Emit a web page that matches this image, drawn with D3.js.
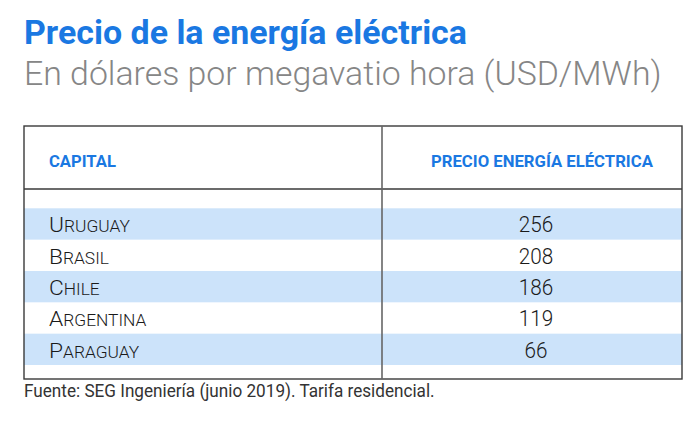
<!DOCTYPE html>
<html>
<head>
<meta charset="utf-8">
<script src="https://cdn.jsdelivr.net/npm/d3@7"></script>
<style>
html,body{margin:0;padding:0;background:#fff;}
svg{display:block;font-family:Roboto,"Noto Sans",sans-serif;}
</style>
</head>
<body>
<svg id="chart" width="700" height="426"></svg>
<script>
// ---- data ----
const title = "Precio de la energía eléctrica";
const subtitle = "En dólares por megavatio hora (USD/MWh)";
const columnHeaders = ["CAPITAL", "PRECIO ENERGÍA ELÉCTRICA"];
const countries = ["Uruguay", "Brasil", "Chile", "Argentina", "Paraguay"];
const prices = [256, 208, 186, 119, 66];
const source = "Fuente: SEG Ingeniería (junio 2019). Tarifa residencial.";

// ---- layout ----
const blue = "#1a78e2", band = "#cce3fa", border = "#3a3a3a";
const T = {left: 24, right: 682, top: 126, headBottom: 189, bottom: 379, divider: 382};
const svg = d3.select("#chart");

function fit(sel, target, anchorX, y) {
  const w = sel.node().getComputedTextLength();
  const s = target / w;
  sel.attr("x", 0).attr("y", 0)
     .attr("transform", `translate(${anchorX},${y}) scale(${s},1)`);
  return s;
}

// title & subtitle
const t1 = svg.append("text").text(title)
  .attr("font-size", 32.5).attr("font-weight", 700).attr("fill", blue);
fit(t1, 443, 24, 44);
const t2 = svg.append("text").text(subtitle)
  .attr("font-size", 33).attr("font-weight", 300).attr("fill", "#868686");
fit(t2, 638, 24, 85);

// row scale
const y = d3.scaleBand().domain(countries).range([208.3, 365]).padding(0);

// bands
svg.append("g").selectAll("rect")
  .data(countries.filter((d, i) => i % 2 === 0))
  .join("rect")
  .attr("x", T.left).attr("width", T.right - T.left)
  .attr("y", d => y(d)).attr("height", y.bandwidth())
  .attr("fill", band);

// table lines
const g = svg.append("g").attr("fill", "none");
g.append("rect").attr("x", T.left).attr("y", T.top)
  .attr("width", T.right - T.left).attr("height", T.bottom - T.top)
  .attr("stroke", border).attr("stroke-width", 1.4);
g.append("line").attr("x1", T.left).attr("x2", T.right)
  .attr("y1", T.headBottom).attr("y2", T.headBottom)
  .attr("stroke", border).attr("stroke-width", 1.4);
g.append("line").attr("x1", T.divider).attr("x2", T.divider)
  .attr("y1", T.top).attr("y2", T.bottom)
  .attr("stroke", "#666").attr("stroke-width", 1.6);

// headers
const h1 = svg.append("text").text(columnHeaders[0])
  .attr("font-size", 16).attr("font-weight", 700).attr("fill", blue);
fit(h1, 67, 49, 167);
const h2 = svg.append("text").text(columnHeaders[1])
  .attr("font-size", 16).attr("font-weight", 700).attr("fill", blue);
fit(h2, 222, 431, 167);

// country names (small caps)
const names = svg.append("g").selectAll("text")
  .data(countries).join("text")
  .attr("fill", "#1a1a1a").attr("font-weight", 300);
names.append("tspan").attr("font-size", 21).text(d => d[0].toUpperCase());
names.append("tspan").attr("font-size", 16).text(d => d.slice(1).toUpperCase());
// horizontal scale derived from the first row's measured width
const nameScale = 81 / names.nodes()[0].getComputedTextLength();
names.attr("transform", d => `translate(49,${y(d) + y.bandwidth() / 2 + 8.5}) scale(${nameScale},1)`);

// values
const valScale = 0.92;
svg.append("g").selectAll("text")
  .data(countries).join("text")
  .attr("transform", d => `translate(536,${y(d) + y.bandwidth() / 2 + 8.5}) scale(${valScale},1)`)
  .attr("text-anchor", "middle")
  .attr("font-size", 22.5).attr("font-weight", 300).attr("fill", "#1a1a1a")
  .text((d, i) => prices[i]);

// source
const src = svg.append("text").text(source)
  .attr("font-size", 17.5).attr("font-weight", 400).attr("fill", "#333");
fit(src, 411, 24, 397);
</script>
</body>
</html>
